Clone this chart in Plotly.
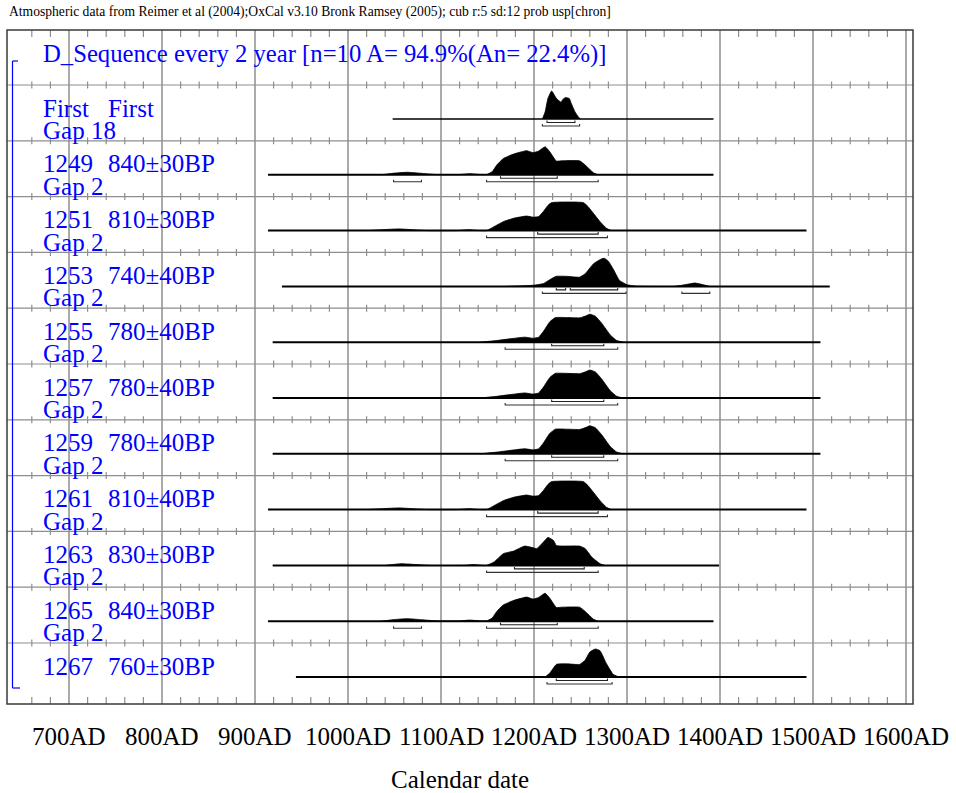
import plotly.graph_objects as go

# ---------------- data ----------------
header_text = "Atmospheric data from Reimer et al (2004);OxCal v3.10 Bronk Ramsey (2005); cub r:5 sd:12 prob usp[chron]"
sequence_title = "D_Sequence every 2 year [n=10 A= 94.9%(An= 22.4%)]"
axis_title = "Calendar date"
tick_years = [700, 800, 900, 1000, 1100, 1200, 1300, 1400, 1500, 1600]
tick_labels = ["700AD", "800AD", "900AD", "1000AD", "1100AD", "1200AD",
               "1300AD", "1400AD", "1500AD", "1600AD"]

row_names = ["First", "1249", "1251", "1253", "1255", "1257", "1259", "1261", "1263", "1265", "1267"]
row_dates = ["First", "840±30BP", "810±30BP", "740±40BP", "780±40BP", "780±40BP",
             "780±40BP", "810±40BP", "830±30BP", "840±30BP", "760±30BP"]
row_gaps = ["Gap 18", "Gap 2", "Gap 2", "Gap 2", "Gap 2", "Gap 2", "Gap 2", "Gap 2", "Gap 2", "Gap 2", ""]
range_start = [1048, 914, 914, 929, 919, 919, 919, 914, 919, 914, 944]
range_end = [1393, 1393, 1493, 1518, 1508, 1508, 1508, 1493, 1399, 1393, 1493]

first_years = [1209, 1212, 1215, 1219, 1224, 1229, 1231, 1234, 1238, 1240, 1244, 1248, 1250]
first_prob = [0, 26, 74, 100, 74, 60, 70, 77, 73, 56, 26, 6, 0]
first_1s = [(1214, 1244)]
first_2s = [(1209, 1249)]

bp840_years = [1036, 1050, 1064, 1080, 1095, 1120, 1131, 1142, 1149, 1155, 1160, 1167, 1178,
               1192, 1199, 1205, 1212, 1217, 1224, 1230, 1249, 1255, 1264, 1269]
bp840_prob = [0, 6, 9, 5, 1, 1, 4, 1, 1, 11, 35, 58, 74, 86, 79, 85, 100, 82, 49, 50, 50, 35, 7, 0]
bp840_1s = [(1164, 1225)]
bp840_2s = [(1049, 1079), (1149, 1269)]

bp810_years = [1020, 1055, 1085, 1117, 1130, 1142, 1149, 1157, 1167, 1178, 1192, 1199, 1205,
               1210, 1215, 1219, 1253, 1258, 1271, 1278, 1283]
bp810_prob = [0, 6, 0, 0, 3, 0, 0, 14, 32, 44, 52, 48, 50, 68, 90, 100, 100, 86, 32, 8, 0]
bp810_1s = [(1204, 1269)]
bp810_2s = [(1149, 1279)]

bp740_years = [1170, 1199, 1210, 1217, 1224, 1235, 1249, 1255, 1264, 1273, 1276, 1280, 1285,
               1292, 1300, 1310, 1350, 1359, 1373, 1382, 1389]
bp740_prob = [0, 4, 10, 24, 36, 36, 33, 45, 81, 99, 100, 90, 63, 21, 6, 1, 0, 4, 12, 6, 0]
bp740_1s = [(1224, 1234), (1239, 1290)]
bp740_2s = [(1209, 1299), (1359, 1389)]

bp780_years = [1142, 1160, 1190, 1199, 1205, 1210, 1217, 1223, 1235, 1249, 1255, 1260, 1266,
               1273, 1282, 1289, 1296]
bp780_prob = [0, 6, 18, 14, 18, 38, 73, 88, 88, 87, 93, 100, 93, 67, 26, 6, 0]
bp780_1s = [(1219, 1275)]
bp780_2s = [(1169, 1290)]

bp830_years = [1040, 1057, 1088, 1125, 1135, 1145, 1149, 1157, 1167, 1178, 1190, 1199, 1203,
               1210, 1215, 1221, 1224, 1231, 1249, 1255, 1262, 1271, 1276]
bp830_prob = [0, 6, 0, 0, 3, 0, 0, 12, 42, 51, 69, 63, 60, 83, 100, 89, 71, 69, 69, 60, 30, 6, 0]
bp830_1s = [(1179, 1254)]
bp830_2s = [(1149, 1269)]

bp760_years = [1212, 1217, 1224, 1235, 1249, 1255, 1260, 1266, 1271, 1278, 1285, 1291]
bp760_prob = [0, 14, 45, 47, 45, 60, 89, 100, 94, 47, 10, 0]
bp760_1s = [(1224, 1279)]
bp760_2s = [(1214, 1284)]

row_dists = [
    (first_years, first_prob, first_1s, first_2s),
    (bp840_years, bp840_prob, bp840_1s, bp840_2s),
    (bp810_years, bp810_prob, bp810_1s, bp810_2s),
    (bp740_years, bp740_prob, bp740_1s, bp740_2s),
    (bp780_years, bp780_prob, bp780_1s, bp780_2s),
    (bp780_years, bp780_prob, bp780_1s, bp780_2s),
    (bp780_years, bp780_prob, bp780_1s, bp780_2s),
    (bp810_years, bp810_prob, bp810_1s, bp810_2s),
    (bp830_years, bp830_prob, bp830_1s, bp830_2s),
    (bp840_years, bp840_prob, bp840_1s, bp840_2s),
    (bp760_years, bp760_prob, bp760_1s, bp760_2s),
]

# ---------------- layout constants ----------------
W, H = 956, 793
PL, PR, PT, PB = 7, 913, 30, 704          # plot area in page pixels
PX_PER_YEAR = 0.93
X700 = 69                                  # page x of 700AD


def yr(px):
    return 700 + (px - X700) / PX_PER_YEAR


X_MIN, X_MAX = yr(PL), yr(PR)
PH = PB - PT                               # 674
ROW0 = 55.0
ROW_H = 55.8
BASE_OFF = 34.0
PEAK = 28.0
FONT = "Liberation Serif, Times New Roman, serif"
BLUE = "#0000ff"
GRID = "#8e8e8e"


def pyp(page_y):  # page y -> paper y
    return (PB - page_y) / PH


fig = go.Figure()

# vertical major gridlines
gx, gy = [], []
for t in tick_years:
    gx += [t, t, None]
    gy += [0, PH, None]
fig.add_trace(go.Scatter(x=gx, y=gy, mode="lines", line=dict(color=GRID, width=1.5),
                         hoverinfo="skip", showlegend=False))

# horizontal row separators
seps = [ROW0 + ROW_H * i for i in range(11)]
sx, sy = [], []
for s in seps:
    sx += [X_MIN, X_MAX, None]
    sy += [s, s, None]
fig.add_trace(go.Scatter(x=sx, y=sy, mode="lines", line=dict(color=GRID, width=1.2),
                         hoverinfo="skip", showlegend=False))

# minor ticks every 20 years
minor = [y for y in range(660, 1601, 20) if y % 100 != 0]
tx, ty = [], []
for m in minor:
    for s in seps:
        tx += [m, m, None]
        ty += [s - 3.5, s + 3.5, None]
    tx += [m, m, None, m, m, None]
    ty += [0, 7, None, PH - 7, PH, None]
fig.add_trace(go.Scatter(x=tx, y=ty, mode="lines", line=dict(color=GRID, width=1.2),
                         hoverinfo="skip", showlegend=False))

# rows
for i in range(11):
    top = ROW0 + ROW_H * i
    base = top + BASE_OFF
    years, prob, s1, s2 = row_dists[i]
    fig.add_trace(go.Scatter(x=[range_start[i], range_end[i]], y=[base, base], mode="lines",
                             line=dict(color="black", width=1.6 if i == 0 else 2.0),
                             hoverinfo="skip", showlegend=False))
    pmax = max(prob)
    fig.add_trace(go.Scatter(x=years, y=[base - p / pmax * PEAK for p in prob], mode="lines",
                             fill="toself", fillcolor="black",
                             line=dict(color="black", width=0.8, shape="spline", smoothing=0.4),
                             hoverinfo="skip", showlegend=False))
    for ranges, off, col in ((s1, 3.5, "#222222"), (s2, 7.0, "#333333")):
        bx, by = [], []
        for a, b in ranges:
            bx += [a, a, b, b, None]
            by += [base + off - 2, base + off, base + off, base + off - 2, None]
        fig.add_trace(go.Scatter(x=bx, y=by, mode="lines", line=dict(color=col, width=1.1),
                                 hoverinfo="skip", showlegend=False))

annotations = []


def add_text(text, x, y, size, color, xref="x", yref="y", xanchor="left"):
    annotations.append(dict(text=text, x=x, y=y, xref=xref, yref=yref, xanchor=xanchor,
                            yanchor="middle", showarrow=False,
                            font=dict(family=FONT, size=size, color=color)))


add_text(header_text, yr(7), pyp(12), 13.6, "black", yref="paper")
add_text(sequence_title, yr(41), 23.5, 24.7, BLUE)
for i in range(11):
    top = ROW0 + ROW_H * i
    add_text(row_names[i], yr(41), top + 23, 25, BLUE)
    add_text(row_dates[i], yr(106), top + 23, 25, BLUE)
    if row_gaps[i]:
        add_text(row_gaps[i], yr(41), top + 45.5, 25, BLUE)
for t, lab in zip(tick_years, tick_labels):
    add_text(lab, t, pyp(736.5), 25, "black", yref="paper", xanchor="center")
add_text(axis_title, (X_MIN + X_MAX) / 2, pyp(779.5), 25, "black", xref="x", yref="paper",
         xanchor="center")

shapes = [
    dict(type="line", xref="x", yref="y", x0=yr(12.5), x1=yr(12.5), y0=61 - PT, y1=688 - PT,
         line=dict(color=BLUE, width=1.2)),
    dict(type="line", xref="x", yref="y", x0=yr(12.5), x1=yr(18), y0=61 - PT, y1=61 - PT,
         line=dict(color=BLUE, width=1.2)),
    dict(type="line", xref="x", yref="y", x0=yr(12.5), x1=yr(20), y0=688 - PT, y1=688 - PT,
         line=dict(color=BLUE, width=1.2)),
    dict(type="rect", xref="paper", yref="paper", x0=0, x1=1, y0=0, y1=1,
         line=dict(color="#3a3a3a", width=1.5), fillcolor="rgba(0,0,0,0)"),
]

fig.update_layout(
    width=W, height=H,
    margin=dict(l=PL, r=W - PR, t=PT, b=H - PB, pad=0),
    paper_bgcolor="white", plot_bgcolor="white",
    xaxis=dict(range=[X_MIN, X_MAX], showgrid=False, zeroline=False, showticklabels=False,
               ticks="", showline=False, fixedrange=True),
    yaxis=dict(range=[PH, 0], showgrid=False, zeroline=False, showticklabels=False,
               ticks="", showline=False, fixedrange=True),
    annotations=annotations,
    shapes=shapes,
    showlegend=False,
)

fig.write_html("out.html", config={"displayModeBar": False},
               post_script="document.body.style.margin='0px';document.body.style.overflow='hidden';")
